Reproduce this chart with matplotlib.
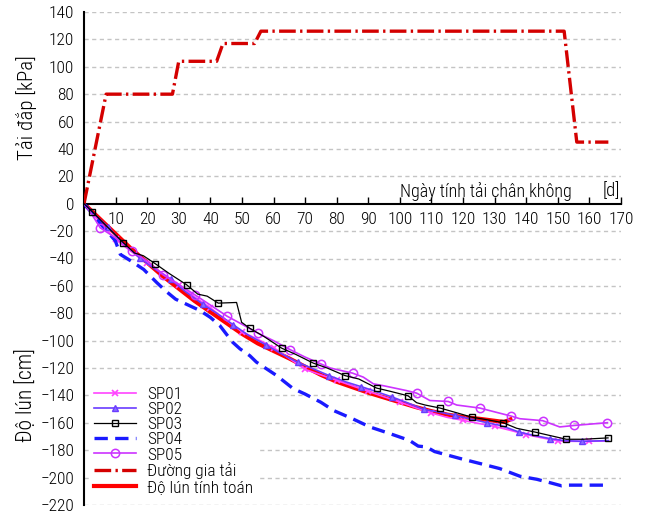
import matplotlib
matplotlib.use("Agg")
import matplotlib.pyplot as plt
from matplotlib import font_manager
import numpy as np

# ---------------- data ----------------
load_days = [0, 7, 28, 30, 42, 44, 54, 56, 152, 156, 166]
load_kpa = [0, 80, 80, 104, 104, 117, 117, 126, 126, 45, 45]

calc_days = [0, 5, 10, 15, 20, 25, 30, 35, 40, 45, 50, 55, 60, 65, 70, 75, 80, 85, 90, 95, 100,
             105, 110, 115, 120, 125, 130, 133, 135]
calc_set = [0, -11, -22, -33, -43, -53, -62, -71, -79, -87, -95, -102, -107.5, -113, -119, -125,
            -130, -134, -138, -141.5, -145, -148.5, -151.5, -154, -155.8, -157, -158.5, -159.4, -157.5]

sp01_days = [0, 3, 6, 10, 15, 20, 25, 30, 35, 40, 45, 50, 55, 60, 65, 70, 75, 80, 85, 90, 95,
             100, 105, 110, 115, 120, 125, 130, 135, 140, 145, 150, 155, 160, 166]
sp01_set = [0, -8, -16, -26, -35, -43, -51, -59, -68, -76, -85, -93.4, -99, -105, -113, -121, -125,
            -129, -133, -137, -141, -144.8, -149, -152.8, -156, -158.2, -160.5, -162.6, -165.5,
            -168.6, -171, -173.2, -173.5, -173.5, -173.2]

sp02_days = [0, 3, 7.6, 12, 17.7, 22, 27.4, 32, 37.6, 42, 47.2, 52, 57.5, 62, 67.6, 72, 77.6, 83,
             87.6, 91, 97.6, 102, 107.6, 112, 117.6, 122, 127.6, 132, 137.7, 142, 147.5, 152,
             157.7, 166]
sp02_set = [0, -7, -17, -28, -39.8, -47, -55.1, -64, -73.3, -80, -88.3, -96, -102.9, -109, -115.7,
            -120, -125.5, -130.2, -133.5, -136, -141.2, -145, -150.2, -152, -154.6, -157, -159.9,
            -162, -166.7, -169, -171.5, -173, -173.5, -173]

sp03_days = [0, 2.6, 7, 12.4, 16, 18.8, 22.5, 27, 32.5, 36, 39, 42.5, 48.3, 49.9, 52.5, 57, 62.6,
             67, 72.6, 77, 82.6, 87, 92.6, 97, 102.6, 105.3, 108, 112.7, 117, 122.7, 127, 132.7,
             137, 142.7, 147, 152.7, 158, 165.9]
sp03_set = [0, -5.8, -16, -28.4, -36, -38, -43.7, -51, -59.2, -66, -67.5, -72.6, -72.1, -86.6, -91,
            -97, -105.5, -110, -116.4, -120, -125.5, -128, -134.6, -137, -140.3, -145.3, -147,
            -149.2, -152, -155.8, -157.5, -159.9, -164, -166.7, -169, -172, -172, -171]
sp03_marks = [1, 3, 6, 8, 11, 14, 16, 18, 20, 22, 24, 27, 29, 31, 33, 35, 37]

sp04_days = [0, 3, 5.7, 9.9, 11.5, 15, 18.9, 23, 26, 29, 33, 36.7, 40, 43, 45, 47, 49.4, 52.5,
             54.6, 57.8, 61, 66.2, 70, 75, 79, 85, 90.5, 97, 103, 105.8, 108.4, 111, 119, 125,
             131.6, 138, 143.3, 148, 151.2, 153.3, 160, 166]
sp04_set = [0, -8, -16, -27, -37, -42, -48, -57.5, -64, -69.7, -74, -78, -83, -89, -95, -101, -106,
            -111, -115.7, -120.6, -125.5, -135, -139, -145, -151, -157, -163, -168, -172.8, -177,
            -177.6, -181, -186, -189.5, -193.4, -199, -201.2, -204, -206, -205.5, -205.5, -205.5]

sp05_days = [0, 2, 5.1, 10, 15.1, 20, 25.1, 30, 35.1, 40, 45.2, 50, 55.2, 60, 65.2, 70, 75, 78, 85,
             88.4, 91.6, 95, 102, 105.3, 109.5, 115.3, 118, 125.3, 130, 135.1, 138, 145.2, 150.6,
             155.2, 165.7]
sp05_set = [0, -6, -17.5, -25, -34.5, -42, -52, -59, -66.5, -74, -82, -88, -94.7, -100, -106.5,
            -112, -117, -120, -123.7, -126.6, -131.5, -133, -136.4, -138.3, -143.7, -144.4, -147,
            -149.2, -152, -155, -157, -158.4, -163, -161.9, -159.9]
sp05_marks = [2, 4, 6, 8, 10, 12, 14, 16, 18, 23, 25, 27, 29, 31, 33, 34]

x_ticks = list(range(10, 171, 10))
y_ticks = list(range(-220, 141, 20))

labels = ["SP01", "SP02", "SP03", "SP04", "SP05", "Đường gia tải", "Độ lún tính toán"]

# ---------------- fonts ----------------
names = {f.name for f in font_manager.fontManager.ttflist}
fam = [n for n in ["Liberation Sans Narrow", "Roboto Condensed", "DejaVu Sans"] if n in names]
plt.rcParams['font.family'] = fam + ['DejaVu Sans']
plt.rcParams['font.weight'] = 'light'
plt.rcParams['axes.unicode_minus'] = True
FS = 12.5

fig = plt.figure(figsize=(6.46, 5.15), dpi=100)
ax = fig.add_axes([84 / 646, 1 - 505 / 515, 537 / 646, 493 / 515])
ax.set_xlim(0, 170)
ax.set_ylim(-220, 140)

# grid
for yv in y_ticks:
    if yv != 0:
        ax.axhline(yv, color='#c4c4c4', lw=1.0, ls=(0, (3, 2.5)), zorder=0)

ax.plot(sp01_days, sp01_set, color='#ff44ff', lw=1.2, marker='x', ms=4.5, mew=1.2,
        markevery=list(range(3, len(sp01_days), 2)), label=labels[0], zorder=3)
ax.plot(sp02_days, sp02_set, color='#6a3cff', lw=1.2, marker='^', ms=5, mfc='#8a6cff', mew=1.0,
        markevery=list(range(2, len(sp02_days) - 1, 2)), label=labels[1], zorder=3)
ax.plot(sp03_days, sp03_set, color='black', lw=0.9, marker='s', ms=4.5, mfc='none', mew=1.0,
        markevery=sp03_marks, label=labels[2], zorder=4)
ax.plot(sp04_days, sp04_set, color='#1a1aff', lw=2.4, ls=(0, (4, 2.2)), label=labels[3], zorder=3)
ax.plot(sp05_days, sp05_set, color='#cc33ff', lw=1.2, marker='o', ms=6, mfc='none', mew=1.1,
        markevery=sp05_marks, label=labels[4], zorder=3)
ax.plot(load_days, load_kpa, color='#d40000', lw=2.4, ls=(0, (5, 1.3, 0.7, 1.3)),
        label=labels[5], zorder=3)
ax.plot(calc_days, calc_set, color='#ff0000', lw=3.0, label=labels[6], zorder=2)

# spines
for s in ['top', 'right']:
    ax.spines[s].set_visible(False)
ax.spines['bottom'].set_position(('data', 0))
ax.spines['bottom'].set_linewidth(1.5)
ax.spines['left'].set_linewidth(1.5)

ax.set_xticks(x_ticks)
ax.set_yticks(y_ticks)
ax.tick_params(axis='x', direction='in', length=5, width=1, pad=6, labelsize=FS)
ax.tick_params(axis='y', length=0, pad=7, labelsize=FS)

fig.text(27 / 646, 1 - 108 / 515, "Tải đắp [kPa]", rotation=90, ha='center', va='center',
         fontsize=15)
fig.text(27 / 646, 1 - 395 / 515, "Độ lún [cm]", rotation=90, ha='center', va='center',
         fontsize=15.5)
ax.text(0.909, 0.635, "Ngày tính tải chân không", transform=ax.transAxes, ha='right',
        va='center', fontsize=FS + 0.5)
ax.text(0.998, 0.637, "[d]", transform=ax.transAxes, ha='right', va='center', fontsize=FS + 1)

leg = ax.legend(loc='lower left', bbox_to_anchor=(0.0, 0.0), fontsize=12.5, frameon=True,
                facecolor='white', edgecolor='none', framealpha=1, fancybox=False,
                handlelength=2.4, handletextpad=0.65, labelspacing=0.0, borderpad=0.3,
                borderaxespad=0.3)
leg.set_zorder(5)

fig.savefig("out.png", dpi=100)
